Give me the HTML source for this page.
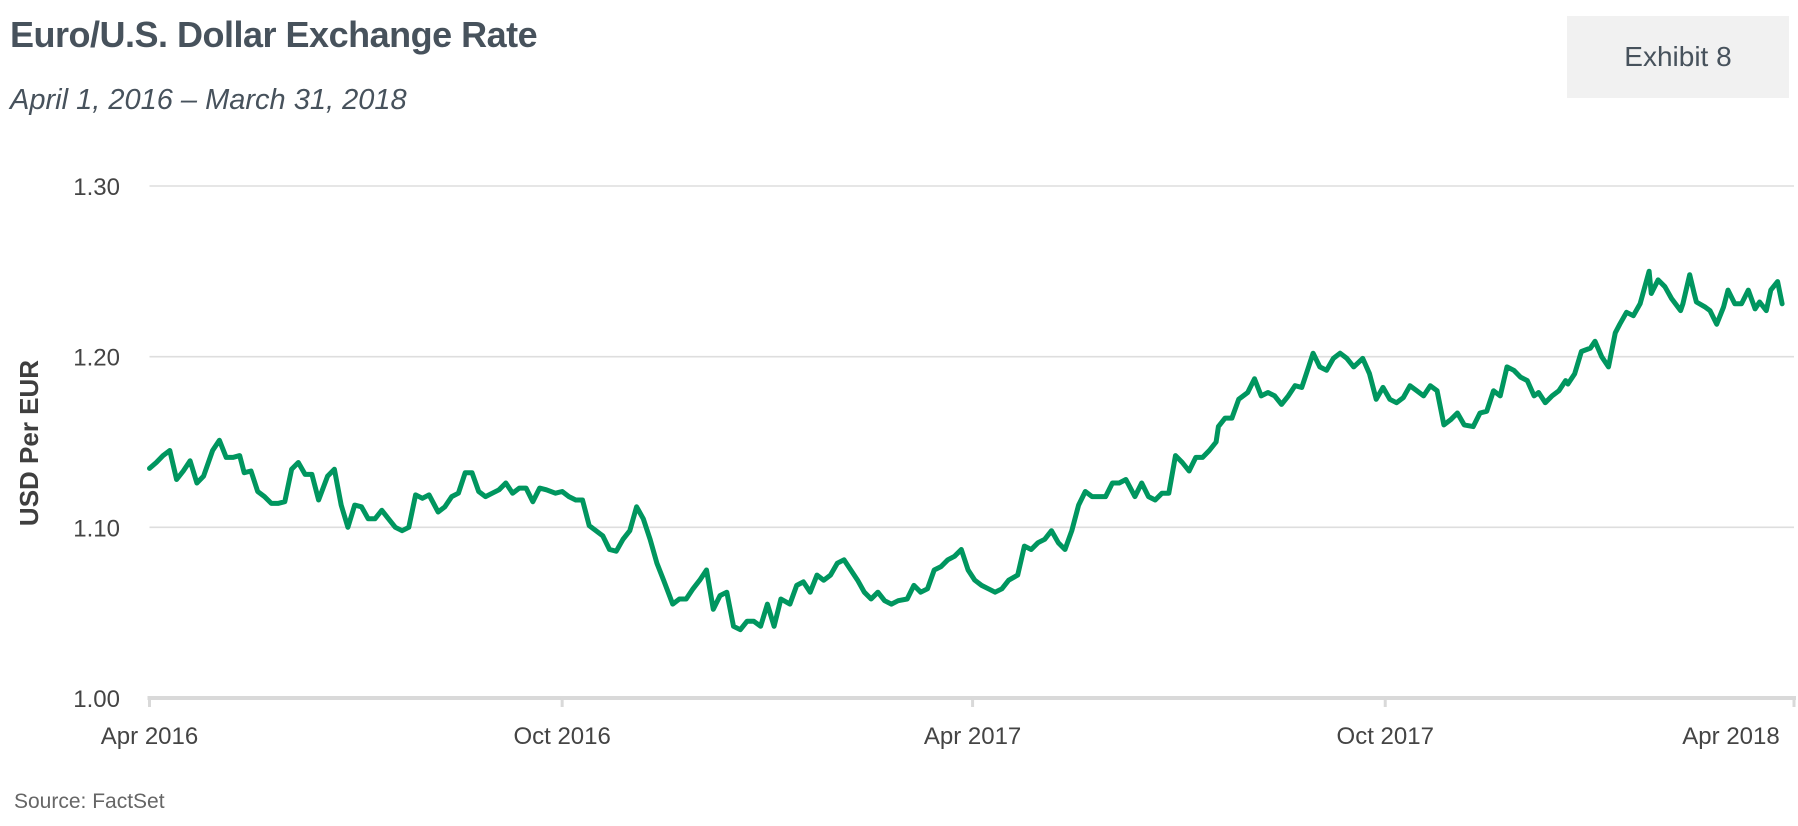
<!DOCTYPE html>
<html><head><meta charset="utf-8"><style>
html,body{margin:0;padding:0;background:#fff;}
body{width:1798px;height:826px;overflow:hidden;position:relative;font-family:"Liberation Sans",sans-serif;}
.title{position:absolute;left:10px;top:14px;font-size:36px;font-weight:bold;color:#47525c;letter-spacing:-0.5px;}
.sub{position:absolute;left:10px;top:84px;font-size:29px;font-style:italic;color:#47525c;}
.exh{position:absolute;left:1567px;top:16px;width:222px;height:82px;background:#f1f1f1;color:#47525c;font-size:28px;display:flex;align-items:center;justify-content:center;}
.src{position:absolute;left:14px;top:790px;font-size:21px;color:#666;}
</style></head><body>
<div class="title">Euro/U.S. Dollar Exchange Rate</div>
<div class="sub">April 1, 2016 – March 31, 2018</div>
<div class="exh">Exhibit 8</div>
<div class="src">Source: FactSet</div>
<svg id="chart" width="1798" height="826" style="position:absolute;left:0;top:0">
<text transform="translate(38,443) rotate(-90)" text-anchor="middle" font-family="Liberation Sans, sans-serif" font-weight="bold" font-size="26" fill="#3f3f3f">USD Per EUR</text>
</svg>
<script>
const yTicks=[1.00,1.10,1.20,1.30];
const yTickLabels=["1.00","1.10","1.20","1.30"];
const xTickDays=[0,183,365,548,730];
const xTickLabels=["Apr 2016","Oct 2016","Apr 2017","Oct 2017","Apr 2018"];
const days=[0,3,6,9,12,15,18,21,24,28,31,34,37,40,42,45,48,51,54,57,60,63,66,69,72,75,79,82,85,88,91,94,97,100,103,106,109,112,115,118,121,124,128,131,134,137,140,143,146,149,152,155,158,161,164,167,170,173,176,180,183,186,189,192,195,198,201,204,207,210,213,216,219,222,225,228,232,235,238,241,244,247,250,253,256,259,262,265,268,271,274,277,280,284,287,290,293,296,299,302,305,308,311,314,317,320,323,326,329,332,336,339,342,345,348,351,354,357,360,363,366,369,372,375,378,381,385,388,391,394,397,400,403,406,409,412,415,418,421,424,427,430,433,437,440,443,446,449,452,455,458,461,464,467,470,473,474,477,480,483,487,490,493,496,499,502,505,508,511,514,516,519,522,525,528,531,534,538,541,544,547,550,553,556,559,562,565,568,571,574,577,580,583,587,590,593,596,599,602,605,608,611,614,616,619,622,625,628,629,632,635,639,641,644,647,650,652,655,658,661,665,666,669,672,675,679,680,683,685,686,690,692,695,698,700,703,706,709,712,714,717,719,722,724,726,729];
const rates=[1.1345,1.138,1.142,1.145,1.128,1.133,1.139,1.126,1.130,1.145,1.151,1.141,1.141,1.142,1.132,1.133,1.121,1.118,1.114,1.114,1.115,1.134,1.138,1.131,1.131,1.116,1.130,1.134,1.113,1.100,1.113,1.112,1.105,1.105,1.110,1.105,1.100,1.098,1.100,1.119,1.117,1.119,1.109,1.112,1.118,1.120,1.132,1.132,1.121,1.118,1.120,1.122,1.126,1.120,1.123,1.123,1.115,1.123,1.122,1.120,1.121,1.118,1.116,1.116,1.101,1.098,1.095,1.087,1.086,1.093,1.098,1.112,1.105,1.093,1.079,1.069,1.055,1.058,1.058,1.064,1.069,1.075,1.052,1.060,1.062,1.042,1.040,1.045,1.045,1.042,1.055,1.042,1.058,1.055,1.066,1.068,1.062,1.072,1.069,1.072,1.079,1.081,1.075,1.069,1.062,1.058,1.062,1.057,1.055,1.057,1.058,1.066,1.062,1.064,1.075,1.077,1.081,1.083,1.087,1.075,1.069,1.066,1.064,1.062,1.064,1.069,1.072,1.089,1.087,1.091,1.093,1.098,1.091,1.087,1.098,1.113,1.121,1.118,1.118,1.118,1.126,1.126,1.128,1.118,1.126,1.118,1.116,1.120,1.120,1.142,1.138,1.133,1.141,1.141,1.145,1.150,1.159,1.164,1.164,1.175,1.179,1.187,1.177,1.179,1.177,1.172,1.177,1.183,1.182,1.194,1.202,1.194,1.192,1.199,1.202,1.199,1.194,1.199,1.190,1.175,1.182,1.175,1.173,1.176,1.183,1.180,1.177,1.183,1.180,1.160,1.163,1.167,1.160,1.159,1.167,1.168,1.180,1.177,1.194,1.192,1.188,1.186,1.177,1.179,1.173,1.177,1.180,1.186,1.184,1.190,1.203,1.205,1.209,1.200,1.194,1.214,1.219,1.226,1.224,1.231,1.250,1.237,1.245,1.241,1.234,1.227,1.231,1.248,1.237,1.232,1.229,1.227,1.219,1.229,1.239,1.231,1.231,1.239,1.228,1.232,1.227,1.239,1.244,1.231];
const svg=document.getElementById('chart');
const NS='http://www.w3.org/2000/svg';
const X0=149.5, PXD=2.255, Y0=698, PXV=1706.7, XR=1794;
const xs=d=>X0+d*PXD;
const ys=v=>Y0-(v-1)*PXV;
function mk(t,a){const e=document.createElementNS(NS,t);for(const k in a)e.setAttribute(k,a[k]);svg.appendChild(e);return e;}
yTicks.forEach((v,i)=>{
  if(i>0){const g=mk('line',{x1:X0,x2:XR,y1:ys(v),y2:ys(v),stroke:'#dedede','stroke-width':1.6});
  
  }
  const t=mk('text',{x:120,y:ys(v)+9,'text-anchor':'end','font-size':24,fill:'#444','font-family':'Liberation Sans, sans-serif'});
  t.textContent=yTickLabels[i];
  
  
});
const ax=mk('line',{x1:X0-2,x2:XR+2,y1:Y0,y2:Y0,stroke:'#d9d9d9','stroke-width':4});


xTickDays.forEach((d,i)=>{
  const x=Math.min(xs(d),XR);
  const tk=mk('line',{x1:x,x2:x,y1:Y0,y2:Y0+9,stroke:'#d9d9d9','stroke-width':3});
  
  
  const lx=i===xTickDays.length-1?1731:xs(d);
  const t=mk('text',{x:lx,y:744,'text-anchor':'middle','font-size':24,fill:'#444','font-family':'Liberation Sans, sans-serif'});
  t.textContent=xTickLabels[i];
  
  
});
const pts=days.map((d,i)=>xs(d).toFixed(1)+','+ys(rates[i]).toFixed(1)).join(' ');
const pl=mk('polyline',{points:pts,fill:'none',stroke:'#00965f','stroke-width':5,'stroke-linejoin':'round','stroke-linecap':'round'});


</script>
</body></html>
